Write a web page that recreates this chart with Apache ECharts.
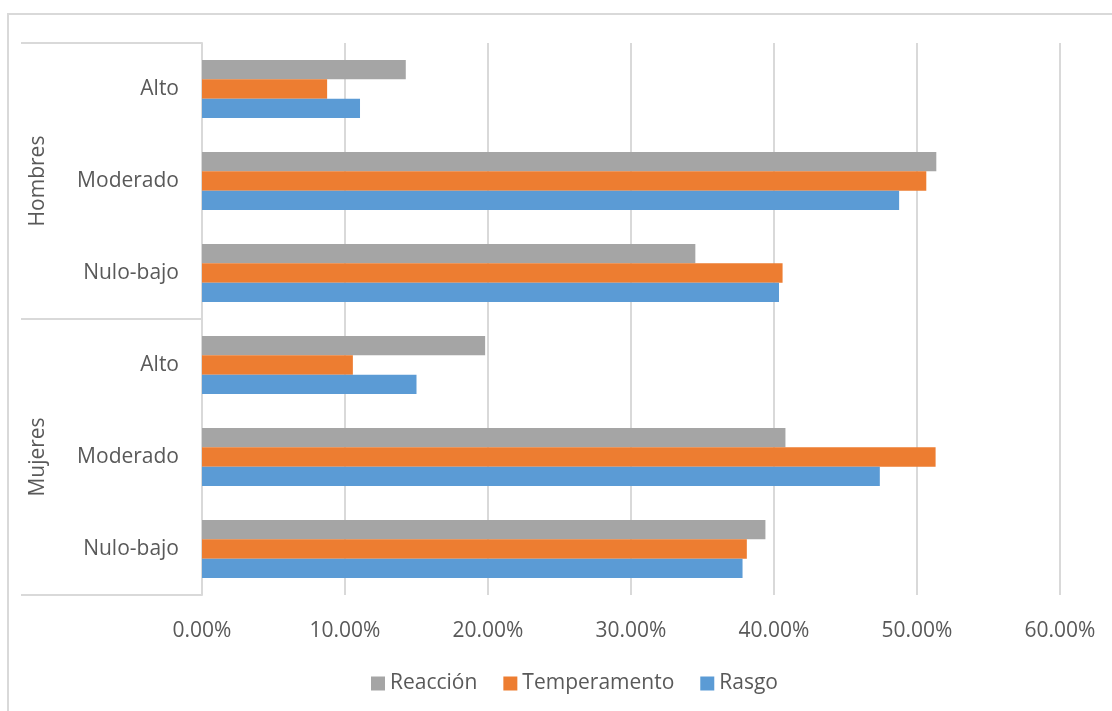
<!DOCTYPE html>
<html>
<head>
<meta charset="utf-8">
<script src="https://cdn.jsdelivr.net/npm/echarts@6/dist/echarts.min.js"></script>
<style>
  html, body { margin: 0; padding: 0; background: #fff; }
  #chart { width: 1112px; height: 711px; }
</style>
</head>
<body>
<div id="chart"></div>
<script>
// categories, bottom to top (ECharts draws the first category at the bottom)
const niveles = ['Nulo-bajo', 'Moderado', 'Alto', 'Nulo-bajo', 'Moderado', 'Alto'];
const grupos = ['Mujeres', 'Hombres'];

// values in %, same order as niveles
const rasgo = [37.8, 47.4, 15.0, 40.35, 48.75, 11.05];
const temperamento = [38.1, 51.3, 10.55, 40.6, 50.65, 8.75];
const reaccion = [39.4, 40.8, 19.8, 34.5, 51.35, 14.25];

const xTicks = { min: 0, max: 60, interval: 10 };

const textColor = '#595959';
const lineColor = '#d9d9d9';
const fontFamily = 'Open Sans, sans-serif';
const fontSize = 21;

const chart = echarts.init(document.getElementById('chart'));

chart.setOption({
    animation: false,
    textStyle: { fontFamily: fontFamily },
    graphic: [
        {
            type: 'rect',
            shape: { x: 8, y: 14, width: 1120, height: 720 },
            style: { fill: 'none', stroke: lineColor, lineWidth: 2 },
            silent: true
        }
    ],
    legend: {
        bottom: 12,
        left: 366,
        data: ['Reacción', 'Temperamento', 'Rasgo'],
        icon: 'rect',
        itemWidth: 14,
        itemHeight: 14,
        itemGap: 26,
        textStyle: { color: textColor, fontSize: fontSize, fontFamily: fontFamily }
    },
    grid: {
        left: 202,
        right: 52,
        top: 43,
        bottom: 116
    },
    xAxis: {
        type: 'value',
        min: xTicks.min,
        max: xTicks.max,
        interval: xTicks.interval,
        axisLine: { show: false },
        axisTick: { show: false },
        axisLabel: {
            color: textColor,
            fontSize: fontSize,
            margin: 26,
            formatter: v => v.toFixed(2) + '%'
        },
        splitLine: { lineStyle: { color: lineColor, width: 2 } }
    },
    yAxis: [
        {
            type: 'category',
            data: niveles,
            position: 'left',
            axisLine: { show: true, lineStyle: { color: lineColor, width: 2 } },
            axisTick: { show: false },
            axisLabel: { color: textColor, fontSize: fontSize, margin: 23, padding: [4, 0, 0, 0] }
        },
        {
            type: 'category',
            data: grupos,
            position: 'left',
            axisLine: { show: false },
            axisTick: {
                show: true,
                length: 181,
                lineStyle: { color: lineColor, width: 2 }
            },
            axisLabel: {
                color: textColor,
                fontSize: fontSize,
                rotate: 90,
                margin: 153
            }
        }
    ],
    series: [
        {
            name: 'Reacción',
            type: 'bar',
            data: reaccion,
            barGap: '0%',
            barCategoryGap: '37%',
            itemStyle: { color: '#a5a5a5' }
        },
        {
            name: 'Temperamento',
            type: 'bar',
            data: temperamento,
            barGap: '0%',
            barCategoryGap: '37%',
            itemStyle: { color: '#ed7d31' }
        },
        {
            name: 'Rasgo',
            type: 'bar',
            data: rasgo,
            barGap: '0%',
            barCategoryGap: '37%',
            itemStyle: { color: '#5b9bd5' }
        }
    ]
});
</script>
</body>
</html>
